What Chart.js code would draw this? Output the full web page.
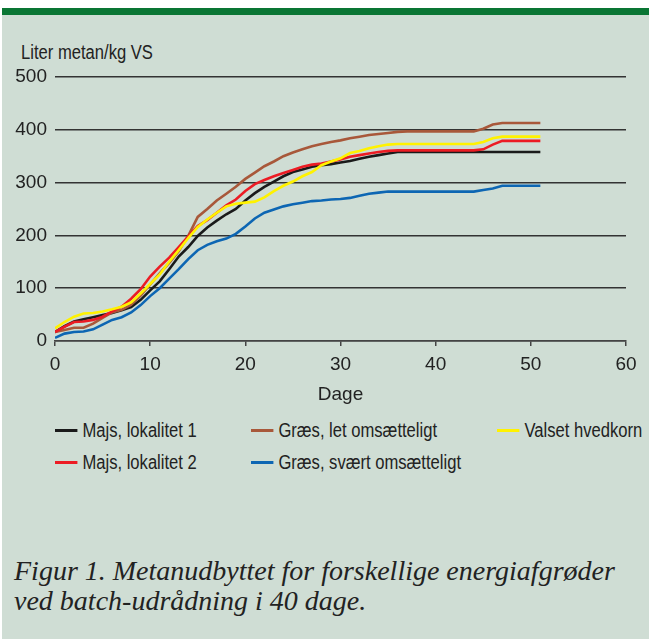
<!DOCTYPE html>
<html>
<head>
<meta charset="utf-8">
<script src="https://cdn.jsdelivr.net/npm/chart.js@4.4.0/dist/chart.umd.min.js"></script>
<style>
  body { margin: 0; width: 649px; height: 639px; overflow: hidden; position: relative;
         background: #fff; color: #222;
         font-family: "Liberation Sans", Arial, sans-serif; }
  #panel { position: absolute; left: 2px; top: 8px; right: 0; bottom: 0; background: #cfddd4; }
  #bar   { position: absolute; left: 2px; top: 8px; right: 0; height: 7px; background: #0a7634; }
  #wrap  { position: absolute; left: 0; top: 0; width: 649px; height: 410px; }
  /* the figure uses a condensed grotesque; squeeze Liberation Sans to match */
  .narrow { position: absolute; font-size: 20px; line-height: 24px; white-space: nowrap;
            transform: scaleX(0.83); transform-origin: 0 0; }
  .leg i { display: inline-block; width: 27px; height: 3px; vertical-align: middle; margin: 0 6px 3px 0; }
  #caption { position: absolute; left: 14px; top: 556px; white-space: nowrap;
             font: italic 28px/30px "Liberation Serif", "Times New Roman", serif; color: #222; }
</style>
</head>
<body>
<div id="panel"></div>
<div id="bar"></div>
<div id="ytitle" class="narrow" style="left:21px; top:40px">Liter metan/kg VS</div>
<div id="wrap"><canvas id="chart"></canvas></div>
<div id="legend"></div>
<div id="caption">Figur 1. Metanudbyttet for forskellige energiafgrøder<br>ved batch-udrådning i 40 dage.</div>

<script>
// ── DATA ───────────────────────────────────────────────
const days = [0, 1, 2, 3, 4, 5, 6, 7, 8, 9, 10, 11, 12, 13, 14, 15, 16, 17, 18, 19, 20,
              21, 22, 23, 24, 25, 26, 27, 28, 29, 30, 31, 32, 33, 34, 35, 36, 37, 38, 39, 40,
              41, 42, 43, 44, 45, 46, 47, 48, 49, 50, 51];

const majs1 = [17, 28, 37, 41, 45, 49, 53, 58, 64, 78, 96, 113, 136, 160, 178, 199, 215, 228, 240, 250,
               266, 280, 292, 302, 312, 320, 325, 330, 333, 335, 338, 341, 345, 349, 352, 355, 358, 358,
               358, 358, 358, 358, 358, 358, 358, 358, 358, 358, 358, 358, 358, 358];

const majs2 = [17, 27, 36, 37, 40, 46, 56, 65, 80, 98, 122, 141, 158, 178, 198, 218, 229, 243, 257, 268,
               284, 297, 305, 312, 318, 324, 330, 334, 336, 340, 344, 349, 352, 355, 358, 360, 361, 361,
               361, 361, 361, 361, 361, 361, 361, 363, 372, 379, 379, 379, 379, 379];

const graesLet = [17, 21, 25, 25, 33, 44, 54, 59, 69, 86, 107, 128, 148, 170, 199, 235, 250, 266, 279, 292,
                  307, 319, 331, 340, 350, 357, 363, 369, 373, 377, 380, 384, 387, 390, 392, 394, 396, 397,
                  397, 397, 397, 397, 397, 397, 397, 402, 410, 413, 413, 413, 413, 413];

const graesSvaert = [6, 14, 17, 18, 22, 31, 40, 45, 54, 68, 85, 100, 118, 136, 155, 172, 182, 189, 194, 203,
                     217, 232, 243, 249, 255, 259, 262, 265, 266, 268, 269, 271, 275, 279, 281, 283, 283, 283,
                     283, 283, 283, 283, 283, 283, 283, 286, 289, 294, 294, 294, 294, 294];

const hvedekorn = [24, 36, 46, 52, 53, 56, 60, 65, 73, 90, 108, 126, 150, 172, 195, 216, 230, 243, 255, 260,
                   262, 264, 272, 284, 294, 302, 312, 320, 333, 340, 346, 356, 360, 365, 369, 372, 373, 373,
                   373, 373, 373, 373, 373, 373, 373, 377, 384, 387, 387, 387, 387, 387];

const yTicks = [0, 100, 200, 300, 400, 500];
const xTicks = [0, 10, 20, 30, 40, 50, 60];

// legend order as in the figure (row by row)
const labels = ["Majs, lokalitet 1", "Græs, let omsætteligt", "Valset hvedkorn",
                "Majs, lokalitet 2", "Græs, svært omsætteligt"];
const series = [majs1, graesLet, hvedekorn, majs2, graesSvaert];
const colors = ["#1a1a1a", "#a8583a", "#fff200", "#ec1c24", "#0d66b3"];
const drawOrder = [3, 2, 0, 1, 4];   // lower = drawn on top

// ── CHART ──────────────────────────────────────────────
const FONT = { family: '"Liberation Sans", Arial, sans-serif', size: 19 };

new Chart(document.getElementById("chart"), {
  type: "line",
  data: {
    datasets: series.map((s, i) => ({
      label: labels[i],
      data: days.map((d, j) => ({ x: d, y: s[j] })),
      borderColor: colors[i],
      borderWidth: 2.6,
      pointRadius: 0,
      tension: 0,
      fill: false,
      order: drawOrder[i]
    }))
  },
  options: {
    responsive: true,
    maintainAspectRatio: false,
    animation: false,
    devicePixelRatio: 1,
    layout: { padding: { top: 77, right: 23, left: 0, bottom: 0 } },
    plugins: { legend: { display: false }, tooltip: { enabled: false } },
    scales: {
      x: {
        type: "linear",
        min: 0, max: 60,
        afterBuildTicks: s => { s.ticks = xTicks.map(v => ({ value: v })); },
        afterFit: s => { s.height = 69; },
        ticks: { color: "#222", font: FONT, padding: 7, maxRotation: 0 },
        grid: { drawOnChartArea: false, drawTicks: true, tickLength: 5, color: "#444", lineWidth: 1.5 },
        border: { display: true, color: "#444", width: 1.5 },
        title: { display: true, text: "Dage", color: "#222", font: FONT, padding: { top: 0, bottom: 4 } }
      },
      y: {
        min: 0, max: 500,
        afterBuildTicks: s => { s.ticks = yTicks.map(v => ({ value: v })); },
        afterFit: s => { s.width = 55; },
        ticks: { color: "#222", font: FONT, padding: 8 },
        grid: { drawTicks: false, color: "#333", lineWidth: 1.5 },
        border: { display: false }
      }
    }
  }
});

// ── LEGEND (two rows, three fixed columns) ─────────────
const legendCols = [55, 251, 497];
const legendRows = [418, 450];
const legend = document.getElementById("legend");
labels.forEach((name, i) => {
  const el = document.createElement("div");
  el.className = "narrow leg";
  el.style.left = legendCols[i % 3] + "px";
  el.style.top  = legendRows[Math.floor(i / 3)] + "px";
  el.innerHTML = `<i style="background:${colors[i]}"></i>${name}`;
  legend.appendChild(el);
});
</script>
</body>
</html>
